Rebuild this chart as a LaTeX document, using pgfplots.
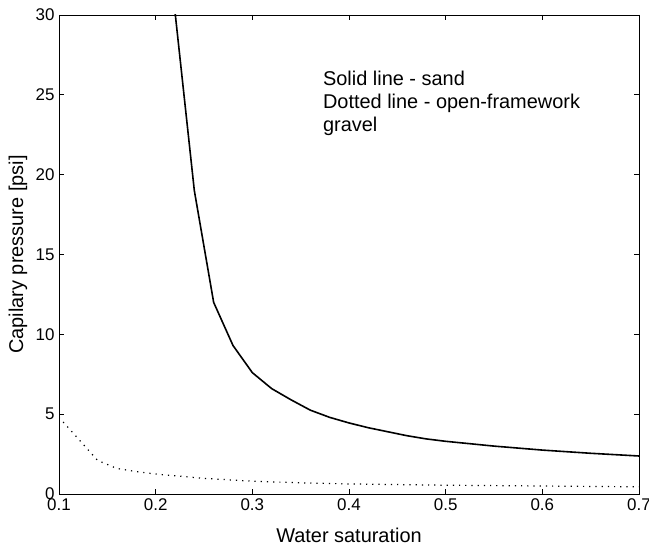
\documentclass[border=0pt]{standalone}
\usepackage{fontspec}
\setmainfont{Liberation Sans}
\usepackage{pgfplots}
\pgfplotsset{compat=1.18}
\begin{document}
\begin{tikzpicture}
\useasboundingbox (0,0) rectangle (649bp,550bp);
\begin{axis}[
  at={(59bp,56bp)}, anchor=south west,
  scale only axis, width=580bp, height=479bp,
  xmin=0.1, xmax=0.7, ymin=0, ymax=30,
  xtick={0.1,0.2,0.3,0.4,0.5,0.6,0.7},
  ytick={0,5,10,15,20,25,30},
  xticklabels={0.1,0.2,0.3,0.4,0.5,0.6,0.7},
  tick align=inside, tick pos=both,
  major tick length=5bp,
  axis line style={line width=0.8bp},
  every tick/.style={black, line width=0.8bp},
  /pgf/number format/assume math mode=true,
  tick label style={font=\fontsize{17}{20}\selectfont},
  xticklabel style={yshift=-1bp},
  yticklabel style={xshift=-1bp},
  every axis x label/.style={at={(axis description cs:0.5,-0.0856)}, anchor=center, font=\fontsize{20}{24}\selectfont},
  every axis y label/.style={at={(axis description cs:-0.0707,0.5)}, anchor=center, rotate=90, font=\fontsize{20}{24}\selectfont},
  xlabel={Water saturation},
  ylabel={Capilary pressure [psi]},
  clip=true,
]
\addplot[black, line width=1.6bp] coordinates {
(0.20,52) (0.22,30.2) (0.24,19.0) (0.26,12.0) (0.28,9.3) (0.30,7.6) (0.32,6.6)
(0.34,5.9) (0.36,5.25) (0.38,4.8) (0.40,4.45) (0.42,4.15) (0.44,3.9)
(0.46,3.65) (0.48,3.45) (0.50,3.3) (0.55,3.0) (0.60,2.75) (0.65,2.55) (0.70,2.38)
};
\addplot[black, line width=1.2bp, dash pattern=on 1.2bp off 5bp] coordinates {
(0.10,4.8) (0.14,2.1) (0.16,1.6) (0.18,1.4) (0.20,1.25) (0.25,0.98) (0.30,0.8)
(0.35,0.7) (0.40,0.63) (0.50,0.55) (0.60,0.5) (0.70,0.45)
};
\node[anchor=north west, align=left, font=\fontsize{20}{23}\selectfont, inner sep=0pt]
  at (axis cs:0.373,26.5) {Solid line - sand\\Dotted line - open-framework\\gravel};
\end{axis}
\end{tikzpicture}
\end{document}
